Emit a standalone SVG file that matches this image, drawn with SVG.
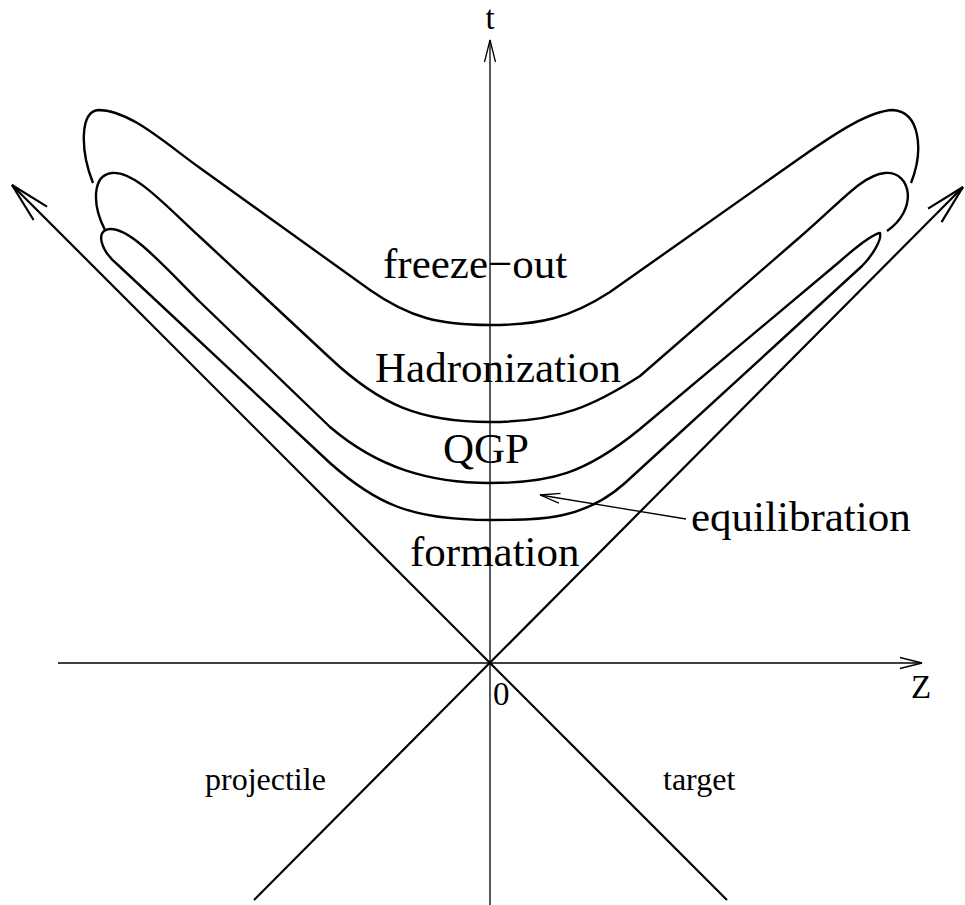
<svg xmlns="http://www.w3.org/2000/svg" width="965" height="905" viewBox="0 0 965 905">
<style>
.axis{fill:none;stroke:#000;stroke-width:1.3}
.cone{fill:none;stroke:#000;stroke-width:2.2}
.curve{fill:none;stroke:#000;stroke-width:2.4;stroke-linejoin:round}
.thin{fill:none;stroke:#000;stroke-width:1.3}
.lbl{font-family:"Liberation Serif","Times New Roman",serif;fill:#000}
.big{font-size:43px}
.small{font-size:33px}
</style>
<defs>
<marker id="aCone" markerUnits="userSpaceOnUse" orient="auto" overflow="visible" markerWidth="1" markerHeight="1" refX="0" refY="0">
<path d="M -40,-9.5 L 0,0 L -40,9.5" fill="none" stroke="#000" stroke-width="2.2"/>
</marker>
<marker id="aAxis" markerUnits="userSpaceOnUse" orient="auto" overflow="visible" markerWidth="1" markerHeight="1" refX="0" refY="0">
<path d="M -22,-5.5 L 0,0 L -22,5.5" fill="none" stroke="#000" stroke-width="1.3"/>
</marker>
<marker id="aEq" markerUnits="userSpaceOnUse" orient="auto" overflow="visible" markerWidth="1" markerHeight="1" refX="0" refY="0">
<path d="M -20,-5 L 0,0 L -20,5" fill="none" stroke="#000" stroke-width="1.3"/>
</marker>
</defs>
<rect width="965" height="905" fill="#fff"/>
<g id="connectors">
<path id="t-axis" class="axis" d="M 490,905 L 490,40" marker-end="url(#aAxis)"/>
<path id="z-axis" class="axis" d="M 58,663 L 922,663" marker-end="url(#aAxis)"/>
<path id="target-line" class="cone" d="M 727,900 L 12,185" marker-end="url(#aCone)"/>
<path id="projectile-line" class="cone" d="M 254,900 L 963,187" marker-end="url(#aCone)"/>
<path id="equil-arrow" class="thin" d="M 686,519 L 540,495" marker-end="url(#aEq)"/>
</g>
<g id="freeze-out-curve">
<path class="curve" d="M 93,183 C 80,150 80,112 98,110 C 130,110 165,143 200,168 L 370,290 C 410,318 440,325 490,325 C 540,325 570,318 610,292 L 800,158 C 840,130 870,111 893,110 C 920,112 924,150 911,183"/>
</g>
<g id="hadronization-curve">
<path class="curve" d="M 105,230 C 92,205 92,175 112,173 C 135,171 165,205 200,237 L 330,358 C 380,405 420,422 490,422 C 560,422 595,405 640,376 L 800,237 C 840,203 862,175 885,173 C 912,171 918,210 887,231"/>
</g>
<g id="qgp-curve">
<path class="curve" d="M 880,233 C 872,234 855,248 838,263 L 640,429 C 585,474 550,483 490,483 C 430,483 378,468 330,427 L 200,302 C 160,262 130,228 110,229 C 95,230 100,250 118,265 L 330,463 C 375,503 410,520 490,520 C 545,520 585,519 625,483 L 778,343 L 862,266 C 872,256 882,240 880,233 Z"/>
</g>
<g id="labels">
<text class="lbl small" x="490" y="29" text-anchor="middle">t</text>
<text class="lbl big" x="383" y="278">freeze−out</text>
<text class="lbl big" x="375" y="382">Hadronization</text>
<text class="lbl big" x="443" y="463">QGP</text>
<text class="lbl big" x="691" y="531">equilibration</text>
<text class="lbl big" x="410" y="566">formation</text>
<text class="lbl small" x="911" y="698">Z</text>
<text class="lbl small" x="493" y="705">0</text>
<text class="lbl" x="205" y="790" font-size="32">projectile</text>
<text class="lbl" x="663" y="790" font-size="32">target</text>
</g>
</svg>
